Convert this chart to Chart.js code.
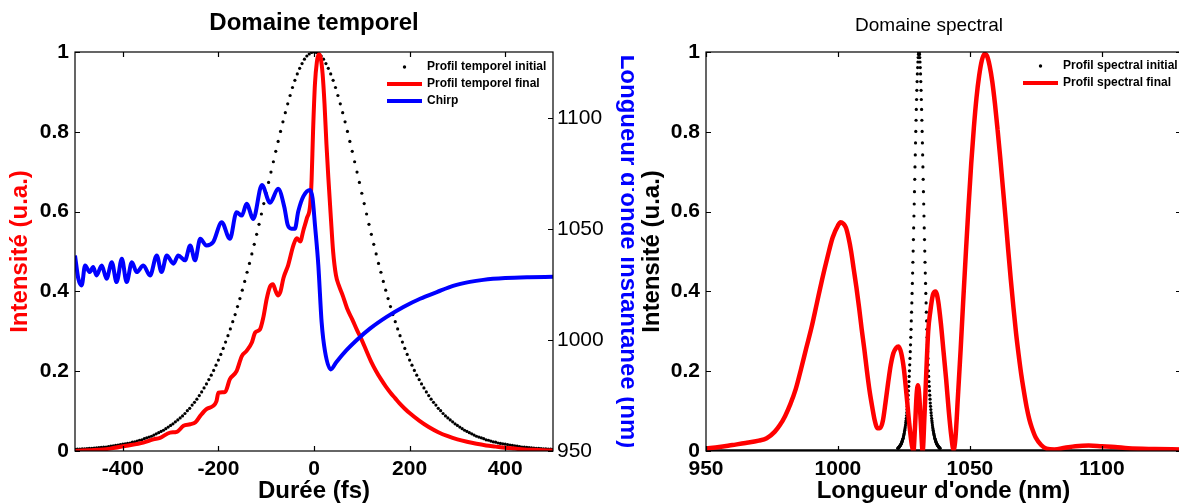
<!DOCTYPE html>
<html>
<head>
<meta charset="utf-8">
<script src="https://cdn.jsdelivr.net/npm/chart.js@4.4.0/dist/chart.umd.min.js"></script>
<style>
  html, body { margin: 0; padding: 0; background: #fff; overflow: hidden; width: 1179px; height: 503px; }
  canvas { position: absolute; top: 0; }
  #temporel { left: -6px; }
  #spectral { left: 630px; }
</style>
</head>
<body>
<canvas id="temporel" width="640" height="503"></canvas>
<canvas id="spectral" width="598" height="503"></canvas>
<script>
// ticks
const timeTicks = [-400, -200, 0, 200, 400];
const timeLabels = ['-400', '-200', '0', '200', '400'];
const intensityTicks = [0, 0.2, 0.4, 0.6, 0.8, 1];
const intensityLabels = ['0', '0.2', '0.4', '0.6', '0.8', '1'];
const chirpTicks = [950, 1000, 1050, 1100];
const chirpLabels = ['950', '1000', '1050', '1100'];
const lambdaTicks = [950, 1000, 1050, 1100];
const lambdaLabels = ['950', '1000', '1050', '1100'];

// profil temporel initial (fs, u.a.)
const initTime = [-500,-495,-490,-485,-480,-475,-470,-465,-460,-455,-450,-445,-440,-435,-430,-425,-420,-415,-410,-405,
  -400,-395,-390,-385,-380,-375,-370,-365,-360,-355,-350,-345,-340,-335,-330,-325,-320,-315,-310,-305,
  -300,-295,-290,-285,-280,-275,-270,-265,-260,-255,-250,-245,-240,-235,-230,-225,-220,-215,-210,-205,
  -200,-195,-190,-185,-180,-175,-170,-165,-160,-155,-150,-145,-140,-135,-130,-125,-120,-115,-110,-105,
  -100,-95,-90,-85,-80,-75,-70,-65,-60,-55,-50,-45,-40,-35,-30,-25,-20,-15,-10,-5,
  0,5,10,15,20,25,30,35,40,45,50,55,60,65,70,75,80,85,90,95,
  100,105,110,115,120,125,130,135,140,145,150,155,160,165,170,175,180,185,190,195,
  200,205,210,215,220,225,230,235,240,245,250,255,260,265,270,275,280,285,290,295,
  300,305,310,315,320,325,330,335,340,345,350,355,360,365,370,375,380,385,390,395,
  400,405,410,415,420,425,430,435,440,445,450,455,460,465,470,475,480,485,490,495,500];
const initTemporal = [0.0042,0.0045,0.0049,0.0052,0.0056,0.006,0.0064,0.0068,0.0073,0.0078,0.0084,0.009,0.0096,0.010,0.011,0.012,0.013,0.014,0.015,0.016,
  0.017,0.018,0.019,0.020,0.022,0.023,0.025,0.027,0.028,0.031,0.033,0.035,0.037,0.040,0.043,0.046,0.049,0.052,0.056,0.060,
  0.064,0.068,0.073,0.078,0.083,0.088,0.094,0.101,0.107,0.115,0.122,0.130,0.139,0.148,0.158,0.168,0.179,0.190,0.202,0.215,
  0.228,0.242,0.257,0.273,0.289,0.306,0.324,0.342,0.362,0.382,0.403,0.425,0.448,0.470,0.494,0.518,0.543,0.568,0.594,0.620,
  0.646,0.673,0.699,0.725,0.751,0.776,0.801,0.825,0.848,0.870,0.891,0.911,0.929,0.945,0.959,0.971,0.982,0.990,0.995,0.999,
  1.000,0.999,0.995,0.990,0.982,0.971,0.959,0.945,0.929,0.911,0.891,0.870,0.848,0.825,0.801,0.776,0.751,0.725,0.699,0.673,
  0.646,0.620,0.594,0.568,0.543,0.518,0.494,0.470,0.448,0.425,0.403,0.382,0.362,0.342,0.324,0.306,0.289,0.273,0.257,0.242,
  0.228,0.215,0.202,0.190,0.179,0.168,0.158,0.148,0.139,0.130,0.122,0.115,0.107,0.101,0.094,0.088,0.083,0.078,0.073,0.068,
  0.064,0.060,0.056,0.052,0.049,0.046,0.043,0.040,0.037,0.035,0.033,0.031,0.028,0.027,0.025,0.023,0.022,0.020,0.019,0.018,
  0.017,0.016,0.015,0.014,0.013,0.012,0.011,0.010,0.0096,0.009,0.0084,0.0078,0.0073,0.0068,0.0064,0.006,0.0056,0.0052,0.0049,0.0045,0.0042];

// profil temporel final
const finalTime = [-500,-470,-440,-427,-392,-357,-336,-322,-301,-287,-273,-259,-248,-238,-225,-211,-204,-200,-186,-176,
  -162,-151,-141,-130,-123,-113,-106,-99,-92,-86,-80,-75,-70,-64,-54,-43,-36,-29,-22,-15,
  -8,-5,-2,2,6,10,14,18,22,26,30,35,40,46,52,60,70,80,90,100,
  110,120,130,140,150,160,170,180,190,200,220,240,260,280,300,320,340,360,380,400,
  420,440,460,480,500];
const finalTemporal = [0.000,0.002,0.004,0.006,0.013,0.021,0.029,0.033,0.046,0.048,0.063,0.067,0.072,0.088,0.105,0.113,0.125,0.146,0.148,0.180,
  0.200,0.238,0.251,0.272,0.297,0.305,0.335,0.381,0.412,0.418,0.400,0.390,0.400,0.433,0.466,0.516,0.533,0.525,0.554,0.583,
  0.617,0.680,0.800,0.920,0.975,0.995,0.985,0.945,0.870,0.770,0.685,0.590,0.500,0.440,0.415,0.390,0.355,0.330,0.303,0.278,
  0.250,0.223,0.200,0.180,0.162,0.146,0.132,0.118,0.106,0.095,0.076,0.060,0.047,0.037,0.029,0.023,0.018,0.014,0.011,0.008,
  0.006,0.004,0.003,0.002,0.001];

// chirp (nm)
const chirpTime = [-500,-493,-486,-479,-469,-462,-455,-444,-434,-423,-413,-402,-392,-381,-371,-357,-343,-329,-319,-308,
  -294,-284,-270,-259,-249,-238,-225,-211,-193,-176,-162,-151,-141,-127,-109,-92,-75,-62,-55,-47,
  -40,-33,-22,-8,-3,2,9,16,23,35,47,68,89,117,152,187,222,257,291,326,354,400,450,500];
const chirpLambda = [1038.2,1027.7,1024.7,1033.7,1030.7,1033.0,1029.2,1033.7,1027.7,1035.2,1026.2,1036.7,1026.2,1035.2,1030.7,1033.7,1029.2,1038.2,1030.7,1038.2,
  1034.5,1038.2,1036.0,1042.7,1036.0,1045.7,1042.7,1044.2,1053.2,1045.7,1057.7,1056.2,1061.5,1054.7,1070.0,1062.0,1068.3,1060.0,1052.0,1050.3,
  1050.3,1058.0,1065.0,1067.8,1064.0,1052.0,1034.0,1008.0,995.0,986.8,990.2,995.5,1000.0,1005.2,1010.5,1015.0,1018.7,1021.7,1024.5,1026.3,
  1027.2,1028.0,1028.4,1028.6];

// profil spectral initial (nm, u.a.)
const specInitLambda = [1022.7,1022.8,1022.9,1023.0,1023.1,1023.2,1023.3,1023.4,1023.5,1023.6,1023.7,1023.8,1023.9,1024.0,1024.1,1024.2,1024.3,1024.4,1024.5,1024.6,
  1024.7,1024.8,1024.9,1025.0,1025.1,1025.2,1025.3,1025.4,1025.5,1025.6,1025.7,1025.8,1025.9,1026.0,1026.1,1026.2,1026.3,1026.4,1026.5,1026.6,
  1026.7,1026.8,1026.9,1027.0,1027.1,1027.2,1027.3,1027.4,1027.5,1027.6,1027.7,1027.8,1027.9,1028.0,1028.1,1028.2,1028.3,1028.4,1028.5,1028.6,
  1028.7,1028.8,1028.9,1029.0,1029.1,1029.2,1029.3,1029.4,1029.5,1029.6,1029.7,1029.8,1029.9,1030.0,1030.1,1030.2,1030.3,1030.4,1030.5,1030.6,
  1030.7,1030.8,1030.9,1031.0,1031.1,1031.2,1031.3,1031.4,1031.5,1031.6,1031.7,1031.8,1031.9,1032.0,1032.1,1032.2,1032.3,1032.4,1032.5,1032.6,
  1032.7,1032.8,1032.9,1033.0,1033.1,1033.2,1033.3,1033.4,1033.5,1033.6,1033.7,1033.8,1033.9,1034.0,1034.1,1034.2,1034.3,1034.4,1034.5,1034.6,
  1034.7,1034.8,1034.9,1035.0,1035.1,1035.2,1035.3,1035.4,1035.5,1035.6,1035.7,1035.8,1035.9,1036.0,1036.1,1036.2,1036.3,1036.4,1036.5,1036.6,
  1036.7,1036.8,1036.9,1037.0,1037.1,1037.2,1037.3,1037.4,1037.5,1037.6,1037.7,1037.8,1037.9,1038.0,1038.1,1038.2,1038.3,1038.4,1038.5,1038.6,1038.7];
const specInit = [0.007,0.007,0.008,0.008,0.009,0.010,0.011,0.012,0.013,0.014,0.015,0.016,0.017,0.019,0.020,0.022,0.024,0.026,0.028,0.030,
  0.032,0.035,0.038,0.041,0.044,0.048,0.052,0.056,0.060,0.065,0.071,0.076,0.082,0.089,0.096,0.104,0.112,0.120,0.130,0.140,
  0.151,0.162,0.174,0.187,0.201,0.216,0.232,0.249,0.266,0.285,0.305,0.326,0.348,0.371,0.395,0.420,0.446,0.473,0.501,0.530,
  0.559,0.589,0.619,0.650,0.681,0.712,0.742,0.772,0.801,0.829,0.856,0.881,0.904,0.926,0.945,0.961,0.975,0.986,0.994,0.998,
  1.000,0.998,0.994,0.986,0.975,0.961,0.945,0.926,0.904,0.881,0.856,0.829,0.801,0.772,0.742,0.712,0.681,0.650,0.619,0.589,
  0.559,0.530,0.501,0.473,0.446,0.420,0.395,0.371,0.348,0.326,0.305,0.285,0.266,0.249,0.232,0.216,0.201,0.187,0.174,0.162,
  0.151,0.140,0.130,0.120,0.112,0.104,0.096,0.089,0.082,0.076,0.071,0.065,0.060,0.056,0.052,0.048,0.044,0.041,0.038,0.035,
  0.032,0.030,0.028,0.026,0.024,0.022,0.020,0.019,0.017,0.016,0.015,0.014,0.013,0.012,0.011,0.010,0.009,0.008,0.008,0.007,0.007];
// hors du pic le profil initial reste a zero
const specBaseLambda = [950, 1022.7, 1038.7, 1130];
const specBase = [0, 0, 0, 0];

// profil spectral final
const specFinalLambda = [950,955,960,965,970,973,976,978,980,982,984,986,988,990,992,994,996,998,1000,1001,
  1002,1003,1004,1005,1006,1007,1008,1009,1010,1011,1012,1013,1014,1015,1016,1017,1018,1019,1020,1021,
  1022,1023,1024,1025,1026,1027,1028,1028.6,1029.2,1029.8,1030.3,1030.8,1031.4,1032.1,1032.8,1033.5,1034.2,1035,1036,1037,
  1038,1039,1040,1041,1042,1043,1043.8,1044.5,1045.5,1046.5,1047.5,1048.5,1049.5,1050.5,1051.5,1052.5,1053.5,1054.5,1055.5,1056.5,
  1057.5,1058.5,1059.5,1060.5,1061.5,1062.5,1063.5,1064.5,1065.5,1066.5,1067.5,1068.5,1069.5,1070.5,1071.5,1072.5,1073.5,1075,1077,1079,
  1082,1086,1090,1095,1100,1105,1110,1120,1130];
const specFinal = [0.006,0.010,0.015,0.020,0.026,0.032,0.048,0.065,0.088,0.118,0.155,0.205,0.258,0.310,0.370,0.430,0.485,0.535,0.565,0.573,
  0.570,0.560,0.535,0.500,0.455,0.410,0.360,0.305,0.255,0.200,0.150,0.110,0.075,0.057,0.058,0.075,0.120,0.170,0.215,0.245,
  0.258,0.262,0.245,0.205,0.140,0.070,0.015,0.000,0.060,0.140,0.165,0.140,0.070,0.000,0.090,0.200,0.300,0.350,0.392,0.400,
  0.375,0.320,0.250,0.180,0.100,0.035,0.003,0.030,0.140,0.255,0.380,0.500,0.615,0.720,0.810,0.885,0.940,0.978,0.995,0.990,
  0.965,0.925,0.870,0.805,0.735,0.660,0.585,0.505,0.430,0.360,0.295,0.240,0.190,0.148,0.110,0.080,0.058,0.033,0.015,0.006,
  0.004,0.008,0.012,0.014,0.012,0.010,0.007,0.005,0.004];

const FONT = '"Liberation Sans", Arial, Helvetica, sans-serif';
const pts = (xs, ys) => xs.map((x, i) => ({ x: x, y: ys[i] }));
const setTicks = (vals) => (s) => { s.ticks = vals.map(v => ({ value: v })); };

// cadre + graduations vers l'interieur (style matlab)
const matlabFrame = {
  id: 'matlabFrame',
  afterDraw(chart) {
    const { ctx, chartArea: a, scales } = chart;
    const L = 5;
    ctx.save();
    ctx.strokeStyle = '#000';
    ctx.lineWidth = 1.2;
    ctx.strokeRect(a.left, a.top, a.right - a.left, a.bottom - a.top);
    ctx.beginPath();
    scales.x.ticks.forEach(t => {
      const px = Math.round(scales.x.getPixelForValue(t.value)) + 0.5;
      ctx.moveTo(px, a.bottom); ctx.lineTo(px, a.bottom - L);
      ctx.moveTo(px, a.top); ctx.lineTo(px, a.top + L);
    });
    scales.y.ticks.forEach(t => {
      const py = Math.round(scales.y.getPixelForValue(t.value)) + 0.5;
      ctx.moveTo(a.left, py); ctx.lineTo(a.left + L, py);
      if (!scales.y1) { ctx.moveTo(a.right, py); ctx.lineTo(a.right - L, py); }
    });
    if (scales.y1) {
      scales.y1.ticks.forEach(t => {
        const py = Math.round(scales.y1.getPixelForValue(t.value)) + 0.5;
        ctx.moveTo(a.right, py); ctx.lineTo(a.right - L, py);
      });
    }
    ctx.stroke();
    ctx.restore();
  }
};

// legende dans le coin haut droit
const matlabLegend = {
  id: 'matlabLegend',
  afterDraw(chart, args, o) {
    const ctx = chart.ctx;
    const items = chart.data.datasets.filter(d => d.label);
    ctx.save();
    ctx.font = 'bold 12px ' + FONT;
    ctx.textBaseline = 'middle';
    items.forEach((d, i) => {
      const y = o.y + i * o.dy;
      if (d.showLine) {
        ctx.strokeStyle = d.borderColor;
        ctx.lineWidth = 4;
        ctx.beginPath(); ctx.moveTo(o.x0, y); ctx.lineTo(o.x1, y); ctx.stroke();
      } else {
        ctx.fillStyle = '#000';
        ctx.beginPath(); ctx.arc((o.x0 + o.x1) / 2, y, 1.7, 0, Math.PI * 2); ctx.fill();
      }
      ctx.fillStyle = '#000';
      ctx.fillText(d.label, o.tx, y);
    });
    ctx.restore();
  }
};

const tickFont = { family: FONT, size: 21, weight: 'bold' };
const axisTitleFont = { family: FONT, size: 24, weight: 'bold', lineHeight: 1 };

new Chart(document.getElementById('temporel'), {
  type: 'scatter',
  data: {
    datasets: [{
      label: 'Profil temporel initial',
      data: pts(initTime, initTemporal),
      yAxisID: 'y',
      showLine: false,
      pointRadius: 1.6,
      pointBackgroundColor: '#000',
      pointBorderWidth: 0,
      order: 2
    }, {
      label: 'Profil temporel final',
      data: pts(finalTime, finalTemporal),
      yAxisID: 'y',
      showLine: true,
      borderColor: '#ff0000',
      borderWidth: 4,
      pointRadius: 0,
      cubicInterpolationMode: 'monotone',
      order: 1
    }, {
      label: 'Chirp',
      data: pts(chirpTime, chirpLambda),
      yAxisID: 'y1',
      showLine: true,
      borderColor: '#0000ff',
      borderWidth: 4,
      pointRadius: 0,
      cubicInterpolationMode: 'monotone',
      order: 0
    }]
  },
  options: {
    responsive: false,
    animation: false,
    devicePixelRatio: 1,
    layout: { padding: 0 },
    plugins: {
      legend: { display: false },
      tooltip: { enabled: false },
      title: {
        display: true,
        text: 'Domaine temporel',
        color: '#000',
        font: { family: FONT, size: 24, weight: 'bold', lineHeight: 1 },
        padding: { top: 11, bottom: 17 }
      },
      matlabLegend: { x0: 393, x1: 428, tx: 433, y: 67, dy: 17 }
    },
    scales: {
      x: {
        type: 'linear', position: 'bottom', min: -500, max: 500,
        afterBuildTicks: setTicks(timeTicks),
        afterFit: s => { s.height = 52; },
        grid: { display: false, drawTicks: false },
        border: { display: false },
        ticks: { color: '#000', font: tickFont, padding: 6, maxRotation: 0, autoSkip: false, callback: (v, i) => timeLabels[i] },
        title: { display: true, text: 'Durée (fs)', color: '#000', font: axisTitleFont, padding: { top: 0, bottom: 0 } }
      },
      y: {
        type: 'linear', position: 'left', min: 0, max: 1,
        afterBuildTicks: setTicks(intensityTicks),
        afterFit: s => { s.width = 81; },
        grid: { display: false, drawTicks: false },
        border: { display: false },
        ticks: { color: '#000', font: tickFont, padding: 6, callback: (v, i) => intensityLabels[i] },
        title: { display: true, text: 'Intensité (u.a.)', color: '#ff0000', font: axisTitleFont, padding: { top: 14 } }
      },
      y1: {
        type: 'linear', position: 'right', min: 950, max: 1130,
        afterBuildTicks: setTicks(chirpTicks),
        afterFit: s => { s.width = 81; },
        grid: { display: false, drawTicks: false },
        border: { display: false },
        ticks: { color: '#000', font: { family: FONT, size: 21 }, padding: 4, callback: (v, i) => chirpLabels[i] },
        title: { display: true, text: "Longueur d'onde instantanée (nm)", color: '#0000ff', font: axisTitleFont, padding: { top: -6 } }
      }
    }
  },
  plugins: [matlabFrame, matlabLegend]
});

new Chart(document.getElementById('spectral'), {
  type: 'scatter',
  data: {
    datasets: [{
      label: 'Profil spectral initial',
      data: pts(specInitLambda, specInit),
      showLine: false,
      pointRadius: 1.6,
      pointBackgroundColor: '#000',
      pointBorderWidth: 0,
      order: 2
    }, {
      label: 'Profil spectral final',
      data: pts(specFinalLambda, specFinal),
      showLine: true,
      borderColor: '#ff0000',
      borderWidth: 4.5,
      pointRadius: 0,
      cubicInterpolationMode: 'monotone',
      order: 1
    }, {
      data: pts(specBaseLambda, specBase),
      showLine: true,
      borderColor: '#000',
      borderWidth: 3.5,
      pointRadius: 0,
      order: 3
    }]
  },
  options: {
    responsive: false,
    animation: false,
    devicePixelRatio: 1,
    layout: { padding: 0 },
    plugins: {
      legend: { display: false },
      tooltip: { enabled: false },
      title: {
        display: true,
        text: 'Domaine spectral',
        color: '#000',
        font: { family: FONT, size: 19, weight: 'normal', lineHeight: 1 },
        padding: { top: 16, bottom: 17 }
      },
      matlabLegend: { x0: 393, x1: 428, tx: 433, y: 66, dy: 17 }
    },
    scales: {
      x: {
        type: 'linear', position: 'bottom', min: 950, max: 1130,
        afterBuildTicks: setTicks(lambdaTicks),
        afterFit: s => { s.height = 52; },
        grid: { display: false, drawTicks: false },
        border: { display: false },
        ticks: { color: '#000', font: tickFont, padding: 6, maxRotation: 0, autoSkip: false, callback: (v, i) => lambdaLabels[i] },
        title: { display: true, text: "Longueur d'onde (nm)", color: '#000', font: axisTitleFont, padding: { top: 0, bottom: 0 } }
      },
      y: {
        type: 'linear', position: 'left', min: 0, max: 1,
        afterBuildTicks: setTicks(intensityTicks),
        afterFit: s => { s.width = 76; },
        grid: { display: false, drawTicks: false },
        border: { display: false },
        ticks: { color: '#000', font: tickFont, padding: 6, callback: (v, i) => intensityLabels[i] },
        title: { display: true, text: 'Intensité (u.a.)', color: '#000', font: axisTitleFont, padding: { top: 10 } }
      },
      pad: {
        type: 'linear', position: 'right', min: 0, max: 1,
        afterFit: s => { s.width = 47; },
        grid: { display: false, drawTicks: false },
        border: { display: false },
        ticks: { display: false }
      }
    }
  },
  plugins: [matlabFrame, matlabLegend]
});
</script>
</body>
</html>
